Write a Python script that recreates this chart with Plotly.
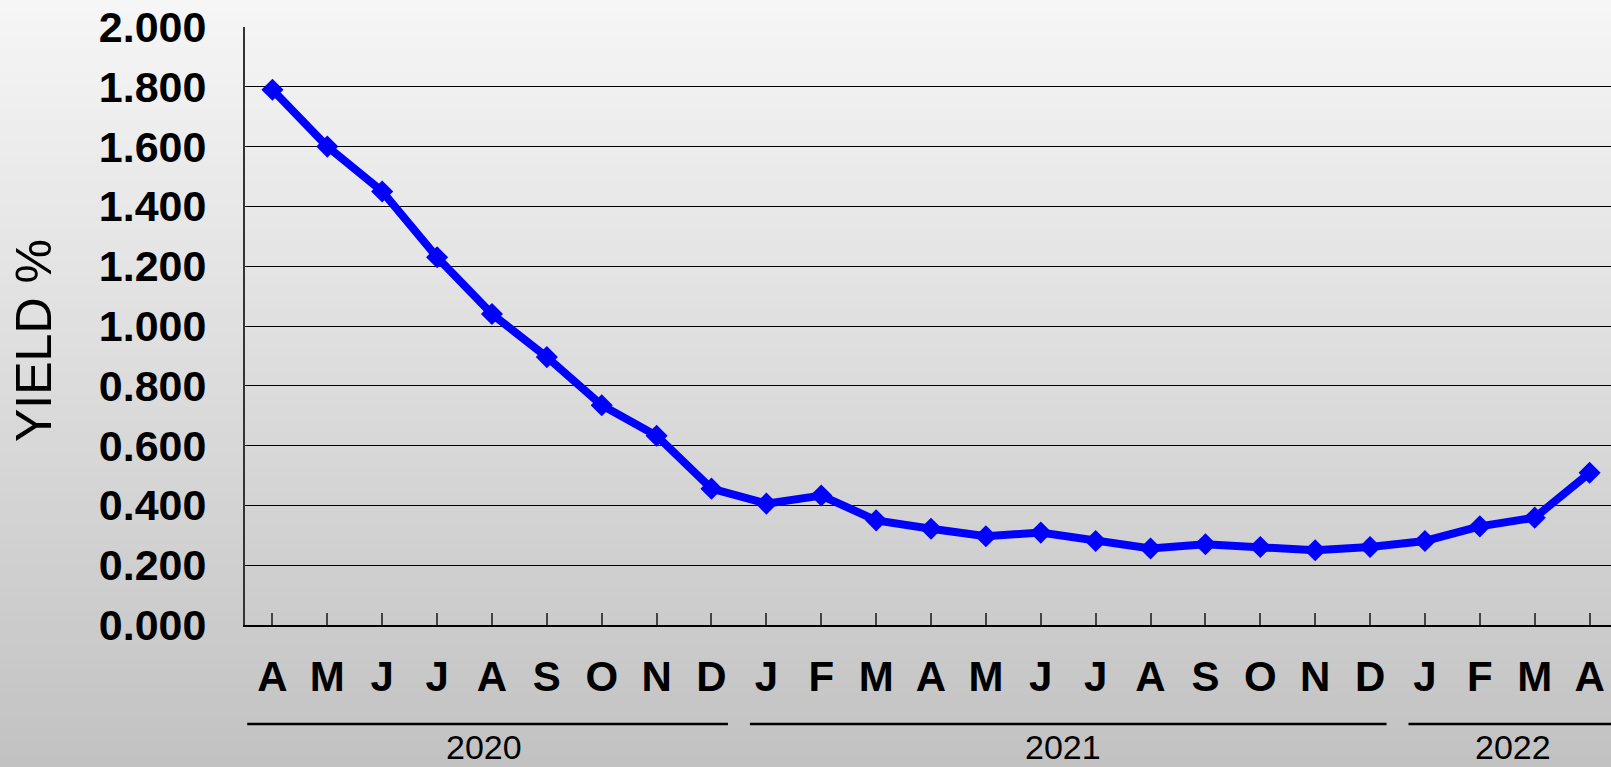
import plotly.graph_objects as go

months = ["A", "M", "J", "J", "A", "S", "O", "N", "D",
          "J", "F", "M", "A", "M", "J", "J", "A", "S", "O", "N", "D",
          "J", "F", "M", "A"]
yields = [1.79, 1.60, 1.45, 1.23, 1.04, 0.896, 0.735, 0.633, 0.456,
          0.406, 0.433, 0.350, 0.322, 0.297, 0.309, 0.281, 0.256, 0.270,
          0.261, 0.250, 0.261, 0.281, 0.330, 0.359, 0.509]
years = ["2020", "2021", "2022"]
year_first = [0, 9, 21]          # index of first month of each year
year_last = [8, 20, 24]          # index of last month of each year
year_label_x = [3.85, 14.4, 22.6]  # where the year text sits (category units)

W, H = 1611, 767
ml, mr, mt, mb = 245, 0, 27, 142

# category positions so repeated letters (J, A, M...) stay separate
xpos = list(range(len(months)))

fig = go.Figure()
fig.add_trace(go.Scatter(
    x=xpos, y=yields, mode="lines+markers",
    line=dict(color="#0000ff", width=8),
    marker=dict(symbol="diamond", size=17, color="#0000ff"),
    hoverinfo="skip", showlegend=False,
))

# grey gradient background, built from thin strips in paper coords
pw, ph = W - ml - mr, H - mt - mb
x0p, x1p = -ml / pw, 1 + mr / pw
n = 64
top_c, bot_c = 246, 194
for i in range(n):
    ya = i * H / n          # pixel rows, measured from the top
    yb = (i + 1) * H / n
    c = round(top_c + (bot_c - top_c) * (i + 0.5) / n)
    fig.add_shape(type="rect", xref="paper", yref="paper",
                  x0=x0p, x1=x1p,
                  y0=(H - mb - yb) / ph, y1=(H - mb - ya) / ph + 0.002,
                  fillcolor=f"rgb({c},{c},{c})", line_width=0, layer="below")

# year brackets under the month labels
line_y = (H - mb - 724) / ph
for k, yr in enumerate(years):
    a = year_first[k] - 0.5 + (0.04 if k == 0 else 0.2)
    b = year_last[k] + 0.5 - (0.2 if k < len(years) - 1 else -1)
    fig.add_shape(type="line", xref="x", yref="paper", x0=a, x1=b,
                  y0=line_y, y1=line_y, line=dict(color="black", width=2.5))
    fig.add_annotation(x=year_label_x[k], xref="x",
                       y=(H - mb - 747) / ph, yref="paper", yanchor="middle",
                       text=yr, showarrow=False,
                       font=dict(size=34, color="black"))

fig.add_annotation(text="YIELD %", textangle=-90, showarrow=False,
                   xref="paper", x=(34 - ml) / pw, xanchor="center",
                   yref="paper", y=(H - mb - 341) / ph, yanchor="middle",
                   font=dict(size=50, color="black"))

fig.update_layout(
    width=W, height=H,
    margin=dict(l=ml, r=mr, t=mt, b=mb),
    paper_bgcolor="#e0e0e0", plot_bgcolor="rgba(0,0,0,0)",
    font=dict(family="Liberation Sans, Arial, sans-serif", color="black"),
    xaxis=dict(
        tickmode="array", tickvals=xpos, ticktext=months,
        range=[-0.5, 24.39], showgrid=False, zeroline=False,
        showline=True, linecolor="black", linewidth=2,
        ticks="inside", ticklen=12, tickcolor="#444", tickwidth=1.5,
        tickfont=dict(size=42, family="Liberation Sans, Arial", weight="bold"),
        ticklabelstandoff=14,
    ),
    yaxis=dict(
        range=[0, 2.0], dtick=0.2, tickformat=".3f",
        showgrid=True, gridcolor="black", gridwidth=1,
        zeroline=False, showline=True, linecolor="#333", linewidth=2,
        tickfont=dict(size=43, family="Liberation Sans, Arial", weight="bold"),
        ticklabelstandoff=28,
    ),
)

# move tick marks onto the month boundaries
fig.update_xaxes(tickson="boundaries")

fig.write_html("out.html", config={"displayModeBar": False},
               post_script="document.body.style.margin='0';")
